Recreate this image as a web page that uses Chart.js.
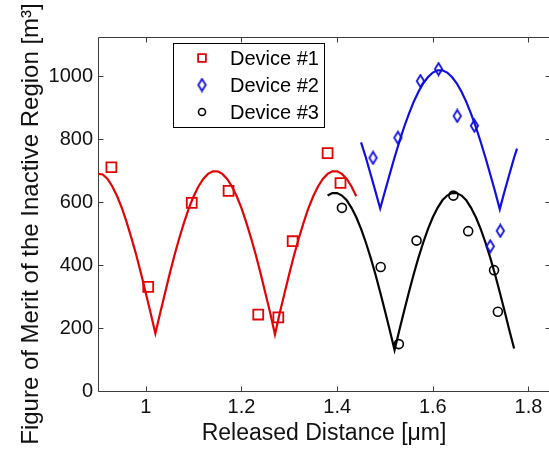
<!DOCTYPE html>
<html>
<head>
<meta charset="utf-8">
<script src="https://cdn.jsdelivr.net/npm/chart.js@4.4.1/dist/chart.umd.min.js"></script>
<style>
html, body { margin: 0; padding: 0; overflow: hidden; background: #fff; }
</style>
</head>
<body>
<canvas id="myChart" width="560" height="449"></canvas>
<script>
var dev1X = [0.928, 1.005, 1.096, 1.173, 1.235, 1.277, 1.307, 1.380, 1.407]
var dev1Y = [711, 331, 598, 636, 243, 234, 476, 756, 661]
var dev2X = [1.475, 1.527, 1.574, 1.612, 1.651, 1.687, 1.720, 1.741]
var dev2Y = [741, 805, 985, 1023, 874, 843, 460, 509]
var dev3X = [1.410, 1.491, 1.529, 1.566, 1.643, 1.674, 1.728, 1.736]
var dev3Y = [582, 394, 149, 478, 621, 508, 384, 252]

// fitted curves, sampled by eye along the drawn lines
var fit1X = [0.90, 0.91, 0.92, 0.93, 0.94, 0.95, 0.96, 0.97, 0.98, 0.99, 1.00, 1.01, 1.02, 1.03, 1.04, 1.05, 1.06, 1.07, 1.08, 1.09,
             1.10, 1.11, 1.12, 1.13, 1.14, 1.15, 1.16, 1.17, 1.18, 1.19, 1.20, 1.21, 1.22, 1.23, 1.24, 1.25, 1.26, 1.27, 1.28, 1.29,
             1.30, 1.31, 1.32, 1.33, 1.34, 1.35, 1.36, 1.37, 1.38, 1.39, 1.40, 1.41, 1.42, 1.43, 1.44]
var fit1Y = [690, 688, 674, 650, 619, 581, 536, 486, 432, 373, 311, 248, 183, 248, 311, 373, 432, 486, 536, 581,
             619, 650, 674, 690, 698, 698, 690, 674, 650, 619, 581, 536, 486, 432, 373, 311, 248, 180, 248, 311,
             373, 432, 486, 536, 581, 619, 650, 674, 690, 698, 698, 690, 674, 650, 619]
var fit2X = [1.45, 1.46, 1.47, 1.48, 1.49, 1.50, 1.51, 1.52, 1.53, 1.54, 1.55, 1.56, 1.57, 1.58, 1.59, 1.60, 1.61,
             1.62, 1.63, 1.64, 1.65, 1.66, 1.67, 1.68, 1.69, 1.70, 1.71, 1.72, 1.73, 1.74, 1.75, 1.76, 1.77, 1.776]
var fit2Y = [790, 742, 689, 635, 580, 635, 689, 742, 792, 839, 881, 919, 951, 978, 998, 1012, 1019,
             1019, 1012, 998, 978, 951, 919, 881, 839, 792, 742, 689, 635, 578, 635, 689, 742, 770]
var fit3X = [1.38, 1.39, 1.40, 1.41, 1.42, 1.43, 1.44, 1.45, 1.46, 1.47, 1.48, 1.49, 1.50, 1.51, 1.52, 1.53, 1.54, 1.55, 1.56, 1.57,
             1.58, 1.59, 1.60, 1.61, 1.62, 1.63, 1.64, 1.65, 1.66, 1.67, 1.68, 1.69, 1.70, 1.71, 1.72, 1.73, 1.74, 1.75, 1.76, 1.77]
var fit3Y = [621, 629, 629, 621, 606, 582, 552, 515, 472, 424, 371, 314, 254, 193, 130, 193, 254, 314, 371, 424,
             472, 515, 552, 582, 606, 621, 629, 629, 621, 606, 582, 552, 515, 472, 424, 371, 314, 254, 193, 135]

var seriesNames = ['Device #1', 'Device #2', 'Device #3']
var xTicks = [1, 1.2, 1.4, 1.6, 1.8]
var yTicks = [0, 200, 400, 600, 800, 1000]

var RED = 'rgb(225,5,5)'
var BLUE = 'rgb(15,15,225)'
var BLACK = 'rgb(5,5,5)'
var FONT = "'Liberation Sans', Arial, sans-serif"

function toXY(xs, ys){
    var out = []
    for (var i = 0; i < xs.length; i++){
        out.push({x: xs[i], y: ys[i]})
    }
    return out
}

// MATLAB style diamond marker (taller than wide)
function diamondImage(color){
    var c = document.createElement('canvas')
    c.width = 11
    c.height = 15
    var g = c.getContext('2d')
    g.strokeStyle = color
    g.lineWidth = 1.8
    g.beginPath()
    g.moveTo(5.5, 1.5)
    g.lineTo(9.2, 7.5)
    g.lineTo(5.5, 13.5)
    g.lineTo(1.8, 7.5)
    g.closePath()
    g.stroke()
    return c
}
var diamond = diamondImage(BLUE)

//Box, inward ticks and boxed legend like the MATLAB figure:
var matlabBox = {
    id: 'matlabBox',
    beforeDatasetsDraw: function(chart){
        var ctx = chart.ctx, a = chart.chartArea
        var xs = chart.scales.x, ys = chart.scales.y
        var L = Math.round(a.left) + 0.5, R = Math.round(a.right) + 0.5
        var T = Math.round(a.top) + 0.5, B = Math.round(a.bottom) + 0.5
        ctx.save()
        ctx.strokeStyle = '#3c3c3c'
        ctx.lineWidth = 1
        ctx.beginPath()
        ctx.rect(L, T, R - L, B - T)
        xs.ticks.forEach(function(t){
            var px = Math.round(xs.getPixelForValue(t.value)) + 0.5
            ctx.moveTo(px, B); ctx.lineTo(px, B - 5)
            ctx.moveTo(px, T); ctx.lineTo(px, T + 5)
        })
        ys.ticks.forEach(function(t){
            var py = Math.round(ys.getPixelForValue(t.value)) + 0.5
            ctx.moveTo(L, py); ctx.lineTo(L + 5, py)
            ctx.moveTo(R, py); ctx.lineTo(R - 5, py)
        })
        ctx.stroke()
        ctx.restore()
    },
    afterDraw: function(chart){
        var ctx = chart.ctx
        var items = chart.data.datasets.filter(function(d){ return d.label })
        ctx.save()
        ctx.fillStyle = '#fff'
        ctx.fillRect(173.5, 43.5, 151, 84)
        ctx.strokeStyle = '#000'
        ctx.lineWidth = 1
        ctx.strokeRect(173.5, 43.5, 151, 84)
        ctx.font = '20px ' + FONT
        ctx.textBaseline = 'middle'
        for (var i = 0; i < items.length; i++){
            var d = items[i]
            var y = 58 + i * 27
            ctx.strokeStyle = d.borderColor
            ctx.fillStyle = 'rgba(0,0,0,0)'
            ctx.lineWidth = d.pointBorderWidth
            Chart.helpers.drawPoint(ctx, {
                pointStyle: d.pointStyle,
                radius: d.legendRadius,
                borderWidth: d.pointBorderWidth,
                rotation: 0
            }, 202, y)
            ctx.fillStyle = '#000'
            ctx.fillText(d.label, 230, y + 1)
        }
        ctx.restore()
    }
}

var ctx = document.getElementById('myChart').getContext('2d')
var myChart = new Chart(ctx, {
    type: 'scatter',
    data: {
        datasets: [{
            label: seriesNames[0],
            data: toXY(dev1X, dev1Y),
            pointStyle: 'rect',
            pointRadius: 7,
            legendRadius: 5.5,
            pointBorderWidth: 1.8,
            borderColor: RED,
            pointBackgroundColor: 'rgba(0,0,0,0)',
            showLine: false
        }, {
            label: seriesNames[1],
            data: toXY(dev2X, dev2Y),
            pointStyle: diamond,
            pointRadius: 6,
            legendRadius: 5,
            pointBorderWidth: 1.8,
            borderColor: BLUE,
            pointBackgroundColor: 'rgba(0,0,0,0)',
            showLine: false
        }, {
            label: seriesNames[2],
            data: toXY(dev3X, dev3Y),
            pointStyle: 'circle',
            pointRadius: 4.5,
            legendRadius: 3.5,
            pointBorderWidth: 1.6,
            borderColor: BLACK,
            pointBackgroundColor: 'rgba(0,0,0,0)',
            showLine: false
        }, {
            label: '',
            data: toXY(fit1X, fit1Y),
            showLine: true,
            borderColor: RED,
            borderWidth: 2.2,
            pointRadius: 0,
            tension: 0
        }, {
            label: '',
            data: toXY(fit2X, fit2Y),
            showLine: true,
            borderColor: BLUE,
            borderWidth: 2.2,
            pointRadius: 0,
            tension: 0
        }, {
            label: '',
            data: toXY(fit3X, fit3Y),
            showLine: true,
            borderColor: BLACK,
            borderWidth: 2.2,
            pointRadius: 0,
            tension: 0
        }]
    },
    options: {
        responsive: false,
        animation: false,
        devicePixelRatio: 1,
        layout: {
            padding: { left: 0, right: 10, top: 37, bottom: 0 }
        },
        plugins: {
            legend: { display: false },
            tooltip: { enabled: false }
        },
        scales: {
            x: {
                type: 'linear',
                min: 0.9,
                max: 1.845,
                grid: { display: false, drawTicks: false },
                border: { display: false },
                afterBuildTicks: function(s){ s.ticks = xTicks.map(function(v){ return {value: v} }) },
                afterFit: function(s){ s.height = 58 },
                ticks: {
                    padding: 4,
                    color: '#111',
                    font: { family: FONT, size: 20 },
                    maxRotation: 0,
                    callback: function(v){ return String(v) }
                },
                title: {
                    display: true,
                    text: 'Released Distance [\u03bcm]',
                    color: '#111',
                    font: { family: FONT, size: 23 },
                    padding: { top: 0, bottom: 2 }
                }
            },
            y: {
                type: 'linear',
                min: 0,
                max: 1125,
                grid: { display: false, drawTicks: false },
                border: { display: false },
                afterBuildTicks: function(s){ s.ticks = yTicks.map(function(v){ return {value: v} }) },
                afterFit: function(s){ s.width = 98 },
                ticks: {
                    padding: 5,
                    color: '#111',
                    font: { family: FONT, size: 20 },
                    callback: function(v){ return String(v) }
                },
                title: {
                    display: true,
                    // trailing spaces push the centred label down, as in the figure
                    text: 'Figure of Merit of the Inactive Region [m\u00b3]   ',
                    color: '#111',
                    font: { family: FONT, size: 24 },
                    padding: { top: 17, bottom: 0 }
                }
            }
        }
    },
    plugins: [matlabBox]
});
</script>
</body>
</html>
